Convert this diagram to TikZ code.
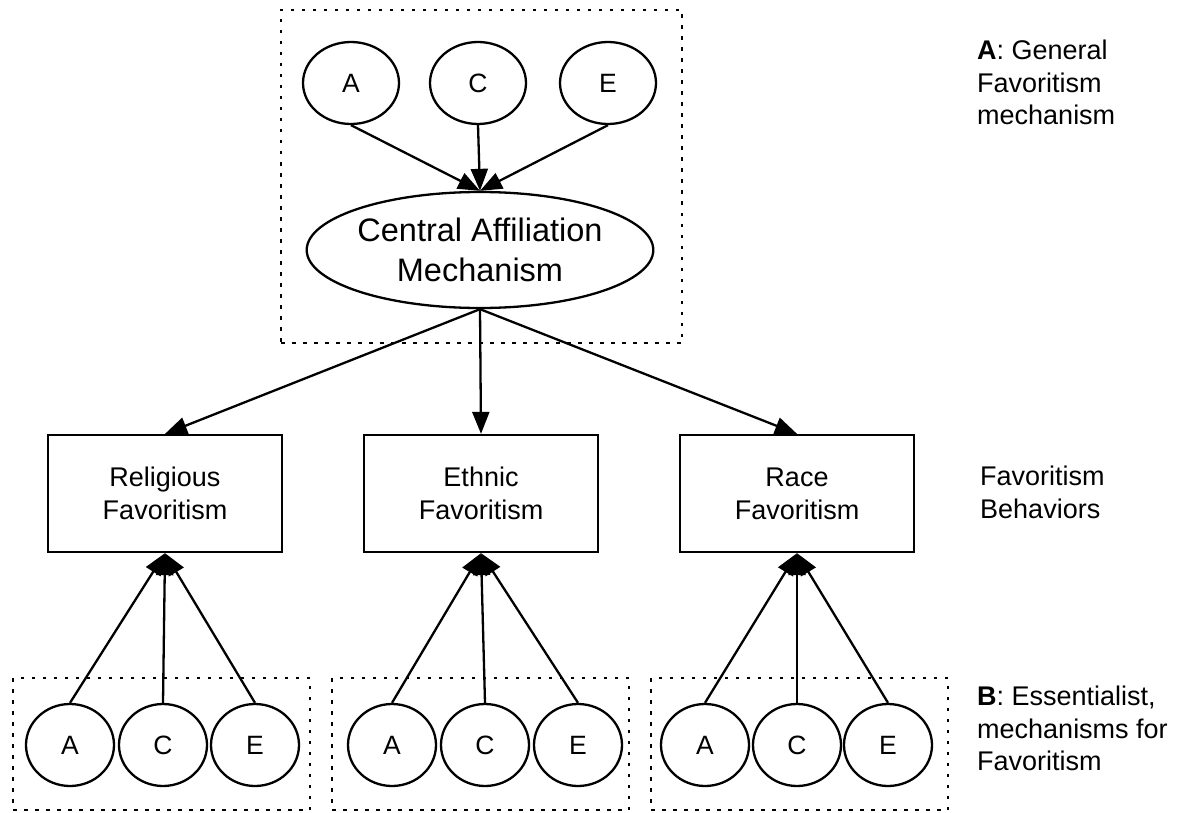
\documentclass[tikz,border=0pt]{standalone}
\usepackage{fontspec}
\setmainfont{Liberation Sans}[Ligatures=NoCommon]
\usetikzlibrary{arrows.meta,shapes.geometric}
\newcommand{\txt}[2]{\fontsize{#1}{#2}\selectfont}
\begin{document}
\begin{tikzpicture}[x=1pt,y=-1pt,
  every node/.style={inner sep=0pt},
  trait/.style={draw,ellipse,line width=2.3pt,minimum width=#1,minimum height=82pt,font=\txt{26.5}{30}},
  trait/.default=96pt,
  core/.style={draw,ellipse,line width=2.3pt,minimum width=346pt,minimum height=116pt,align=center,font=\txt{32.5}{40}},
  behav/.style={draw,rectangle,line width=2.3pt,minimum width=234pt,minimum height=117pt,align=center,font=\txt{27}{33}},
  group/.style={draw,rectangle,line width=2.3pt,dash pattern=on 3.5pt off 7.5pt,minimum width=#1},
  note/.style={anchor=north west,align=left,font=\txt{27}{32.5}},
  link/.style={line width=2.3pt,-{Triangle[length=22pt,width=17pt]}}
]
\useasboundingbox (0,0) rectangle (1177,813);

% dotted frames
\node[group=401pt,minimum height=333pt] (topframe) at (481.5,176.5) {};
\node[group=297pt,minimum height=132pt] (frame1) at (161.5,744) {};
\node[group=297pt,minimum height=132pt] (frame2) at (480.5,744) {};
\node[group=297pt,minimum height=132pt] (frame3) at (799.5,744) {};

% general mechanism
\node[trait] (ta) at (351,83) {A};
\node[trait] (tc) at (478,83) {C};
\node[trait] (te) at (608,83) {E};
\node[core] (cam) at (480,250) {Central Affiliation\\Mechanism};

% favoritism behaviours
\node[behav] (rel) at (165,493.5) {Religious\\Favoritism};
\node[behav] (eth) at (481,493.5) {Ethnic\\Favoritism};
\node[behav] (race) at (797,493.5) {Race\\Favoritism};

% essentialist mechanisms
\node[trait=88pt] (ra) at (70,745) {A};
\node[trait=88pt] (rc) at (163,745) {C};
\node[trait=88pt] (re) at (255,745) {E};
\node[trait=88pt] (ea) at (392,745) {A};
\node[trait=88pt] (ec) at (485,745) {C};
\node[trait=88pt] (ee) at (578,745) {E};
\node[trait=88pt] (ka) at (705,745) {A};
\node[trait=88pt] (kc) at (797,745) {C};
\node[trait=88pt] (ke) at (888,745) {E};

% connectors
\draw[link] (ta.south) -- (cam.north);
\draw[link] (tc.south) -- (cam.north);
\draw[link] (te.south) -- (cam.north);
\draw[link] (cam.south) -- (rel.north);
\draw[link] (cam.south) -- (eth.north);
\draw[link] (cam.south) -- (race.north);
\foreach \s/\t in {ra/rel,rc/rel,re/rel,ea/eth,ec/eth,ee/eth,ka/race,kc/race,ke/race}
  \draw[link] (\s.north) -- (\t.south);

% side labels
\node[note] (labA) at (977,40) {\textbf{A}: General\\Favoritism\\mechanism};
\node[note] (labF) at (980,466) {Favoritism\\Behaviors};
\node[note] (labB) at (977,686) {\textbf{B}: Essentialist,\\mechanisms for\\Favoritism};
\end{tikzpicture}
\end{document}
